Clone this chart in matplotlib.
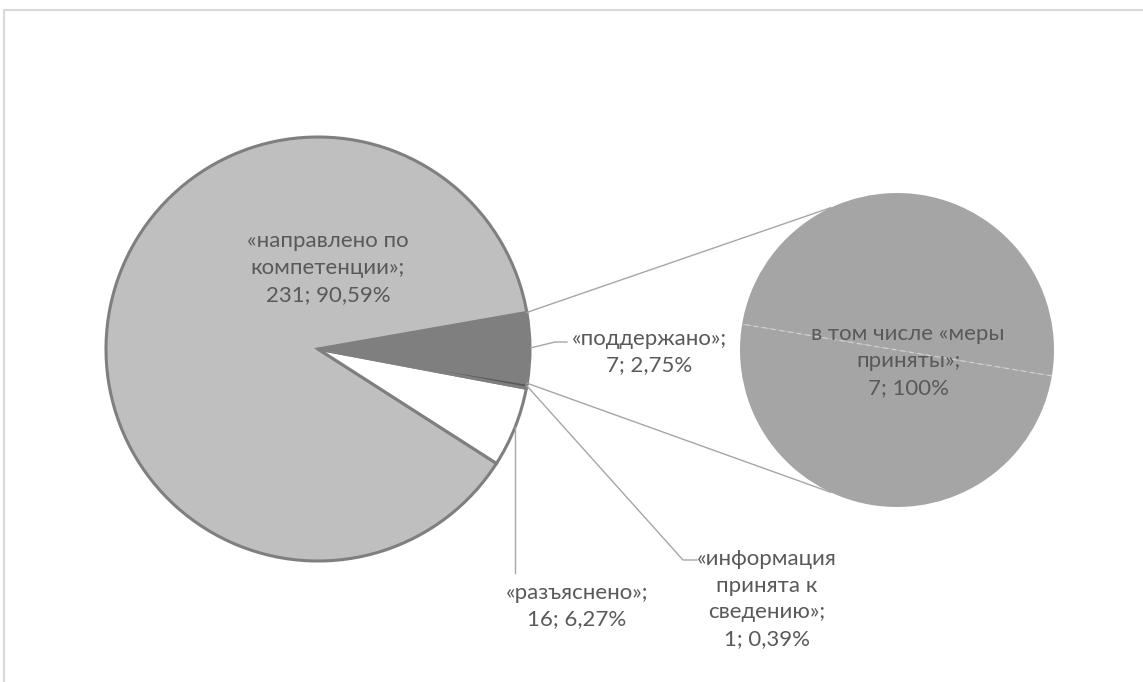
import numpy as np
import matplotlib
matplotlib.use("Agg")
import matplotlib.pyplot as plt
from matplotlib.patches import Rectangle

plt.rcParams['font.family'] = ['Lato', 'Open Sans', 'DejaVu Sans']

# main pie: "поддержано" slice also carries the 7 of the second pie
main_names = ["поддержано", "направлено по компетенции", "разъяснено", "информация принята к сведению"]
main_values = [14, 231, 16, 1]
main_colors = ["#7f7f7f", "#bfbfbf", "#ffffff", "#595959"]

second_names = ["поддержано", "меры приняты"]
second_values = [7, 7]

labels = {
	"направлено по компетенции": "«направлено по\nкомпетенции»;\n231; 90,59%",
	"поддержано": "«поддержано»;\n7; 2,75%",
	"разъяснено": "«разъяснено»;\n16; 6,27%",
	"информация принята к сведению": "«информация\nпринята к\nсведению»;\n1; 0,39%",
	"меры приняты": "в том числе «меры\nприняты»;\n7; 100%",
}

W, H = 1143, 682
fig = plt.figure(figsize=(W / 100, H / 100), dpi=100)
ax = fig.add_axes([0, 0, 1, 1])

c1, r1 = (318, 333), 212
c2, r2 = (897, 332), 157
start1 = -9.3
start2 = -9.5
txt = "#595959"
lc = "#a6a6a6"
fs = 16
ls = 1.42

wedges, _ = ax.pie(main_values, colors=main_colors, startangle=start1, counterclock=True,
	center=c1, radius=r1, frame=True,
	wedgeprops=dict(edgecolor="#7f7f7f", linewidth=2.2, joinstyle="miter"))
w2, _ = ax.pie(second_values, colors=["#a5a5a5"] * 2, startangle=start2, center=c2, radius=r2,
	frame=True, wedgeprops=dict(edgecolor="none", linewidth=0))

def pt(c, r, ang):
	a = np.deg2rad(ang)
	return c[0] + r * np.cos(a), c[1] + r * np.sin(a)

# connector lines between the two pies
dark = wedges[0]
for a1, a2 in [(dark.theta2, 115), (dark.theta1, -115)]:
	p1 = pt(c1, r1, a1)
	p2 = pt(c2, r2, a2)
	ax.plot([p1[0], p2[0]], [p1[1], p2[1]], color=lc, lw=1, zorder=1)

# light dashed split inside the second pie
q1 = pt(c2, r2, w2[0].theta1)
q2 = pt(c2, r2, w2[0].theta2)
ax.plot([q1[0], q2[0]], [q1[1], q2[1]], color="#d0d0d0", lw=0.9, ls=(0, (4, 3)), zorder=3)

def mid(w):
	return (w.theta1 + w.theta2) / 2

# label: поддержано
p = pt(c1, r1 + 1, mid(wedges[0]))
ax.plot([p[0], 555, 567], [p[1], 340, 340], color=lc, lw=1, zorder=1)
ax.text(649, 330, labels["поддержано"], ha="center", va="center", color=txt, fontsize=fs, linespacing=ls)

# label: направлено
ax.text(328, 414, labels["направлено по компетенции"], ha="center", va="center", color=txt, fontsize=fs, linespacing=ls)

# label: разъяснено
p = pt(c1, r1, mid(wedges[2]))
ax.plot([p[0], p[0]], [p[1], 109], color=lc, lw=1, zorder=1)
ax.text(577, 76, labels["разъяснено"], ha="center", va="center", color=txt, fontsize=fs, linespacing=ls)

# label: информация
p = pt(c1, r1, mid(wedges[3]))
ax.plot([p[0], 683, 697], [p[1], 122, 122], color=lc, lw=1, zorder=1)
ax.text(767, 83, labels["информация принята к сведению"], ha="center", va="center", color=txt, fontsize=fs, linespacing=ls)

# label: second pie
ax.text(908, 321, labels["меры приняты"], ha="center", va="center", color=txt, fontsize=fs, linespacing=ls)

# chart area border
fig.patches.append(Rectangle((4 / W, -0.1), 1.2, (H - 10) / H + 0.1, transform=fig.transFigure,
	fill=False, edgecolor="#d9d9d9", lw=1.5))

ax.set_xlim(0, W)
ax.set_ylim(0, H)
ax.set_aspect("auto")
ax.axis("off")

fig.savefig("out.png", dpi=100)
